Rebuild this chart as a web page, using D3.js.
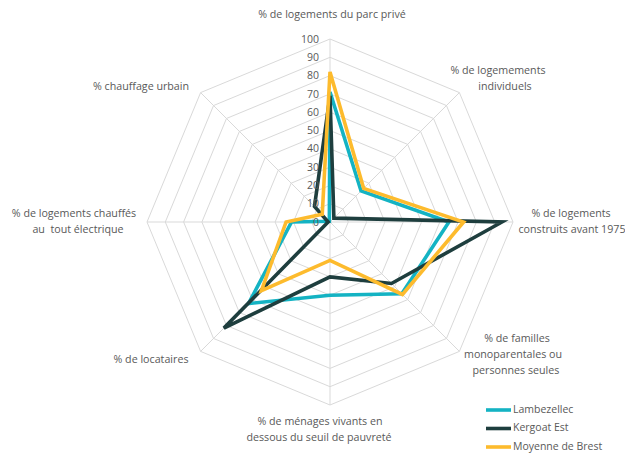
<!DOCTYPE html>
<html><head><meta charset="utf-8">
<script src="https://cdn.jsdelivr.net/npm/d3@7"></script>
<style>
body{margin:0;background:#fff;}
svg text{font-family:"Open Sans",sans-serif;fill:#595959;white-space:pre;}
</style></head>
<body>
<svg id="c" width="625" height="453"></svg>
<script>
const axisLabels = [
  ["% de logements du parc privé"],
  ["% de logemements", "individuels"],
  ["% de logements", "construits avant 1975"],
  ["% de familles", "monoparentales ou", "personnes seules"],
  ["% de ménages vivants en", "dessous du seuil de pauvreté"],
  ["% de locataires"],
  ["% de logements chauffés", "au  tout électrique"],
  ["% chauffage urbain"]
];
const seriesNames = ["Lambezellec", "Kergoat Est", "Moyenne de Brest"];
const lambezellec = [71, 24, 65, 55.5, 40, 63, 21, 0.5];
const kergoat = [69, 3, 94, 47.5, 30, 82, 1, 12];
const moyenne = [82, 26, 73, 56, 21, 53, 24, 6];
const tickValues = [0, 10, 20, 30, 40, 50, 60, 70, 80, 90, 100];

const colors = ["#14B3C3", "#1E3E3E", "#FDBB2D"];
const seriesData = [lambezellec, kergoat, moyenne];

const svg = d3.select("#c");
const cx = 330, cy = 222, R = 183;
const r = d3.scaleLinear().domain([0, 100]).range([0, R]);
const n = axisLabels.length;
const angle = d3.scaleLinear().domain([0, n]).range([0, 2 * Math.PI]);
const pt = (i, v) => [cx + r(v) * Math.sin(angle(i)), cy - r(v) * Math.cos(angle(i))];

const g = svg.append("g");
tickValues.slice(1).forEach(t => {
  const pts = d3.range(n).map(i => pt(i, t));
  g.append("path").attr("d", d3.line()(pts) + "Z")
    .attr("fill", "none").attr("stroke", "#d9d9d9").attr("stroke-width", 1);
});
d3.range(n).forEach(i => {
  const p = pt(i, 100);
  g.append("line").attr("x1", cx).attr("y1", cy).attr("x2", p[0]).attr("y2", p[1])
    .attr("stroke", "#d9d9d9").attr("stroke-width", 1);
});

const lineGen = d3.line().curve(d3.curveLinearClosed);
seriesData.forEach((s, k) => {
  const pts = s.map((v, i) => pt(i, v));
  svg.append("path").attr("d", lineGen(pts))
    .attr("fill", "none").attr("stroke", colors[k]).attr("stroke-width", 3.6)
    .attr("stroke-linejoin", "miter");
});

tickValues.forEach(t => {
  svg.append("text").attr("x", cx - 11).attr("y", cy - r(t)).attr("dy", "0.35em")
    .attr("text-anchor", "end").attr("font-size", 10.5).text(t);
});

const labelPos = [
  [332, 14], [498, 70], [571, 213], [517, 338],
  [320, 421], [151, 359], [74, 213], [141, 86]
];
const lineOffsets = [[0],[0,7],[0,1],[0,-4,-1],[0,-1],[0],[0,4],[0]];
axisLabels.forEach((lines, i) => {
  const t = svg.append("text").attr("text-anchor", "middle").attr("font-size", 10.7);
  lines.forEach((l, j) => {
    t.append("tspan").attr("x", labelPos[i][0] + lineOffsets[i][j])
      .attr("y", labelPos[i][1] + j * 16).attr("dy", "0.35em").text(l);
  });
});

seriesNames.forEach((name, k) => {
  const y = 410 + k * 18.5;
  svg.append("line").attr("x1", 486).attr("x2", 511).attr("y1", y).attr("y2", y)
    .attr("stroke", colors[k]).attr("stroke-width", 3.6);
  svg.append("text").attr("x", 513).attr("y", y - 1).attr("dy", "0.35em")
    .attr("font-size", 10.5).text(name);
});
</script>
</body></html>
